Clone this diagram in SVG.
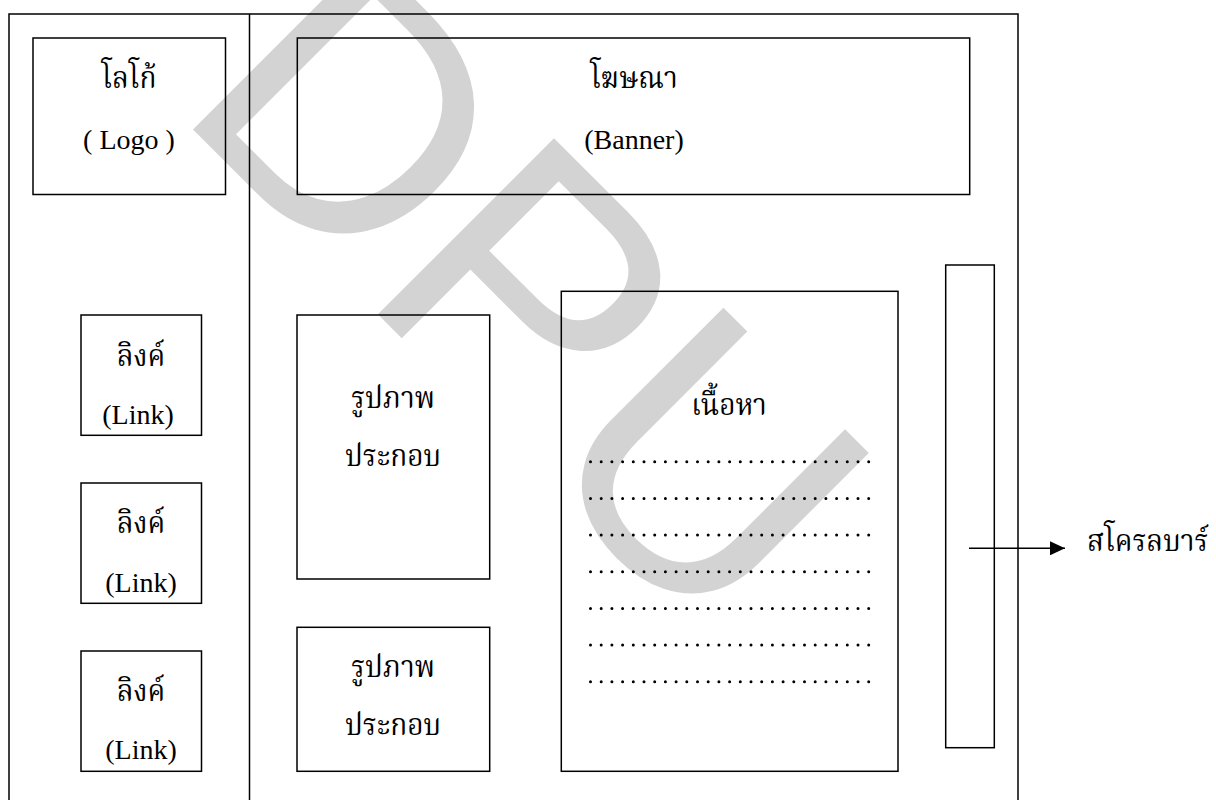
<svg xmlns="http://www.w3.org/2000/svg" width="1216" height="800" viewBox="0 0 1216 800">
  <style>
    .box { fill: none; stroke: #000; stroke-width: 1.5; }
    .th { font-family: "Liberation Serif", "Noto Serif Thai", "Noto Sans Thai", "Noto Sans", serif; font-size: 28px; fill: #000; text-anchor: middle; }
    .en { font-family: "Liberation Serif", serif; font-size: 28px; fill: #000; text-anchor: middle; }
    .dots { stroke: #000; stroke-width: 3; stroke-linecap: round; stroke-dasharray: 0 10.7; fill: none; }
    .wm { font-family: "Liberation Sans", Arial, sans-serif; font-size: 362px; fill: #d3d3d3; }
  </style>
  <defs>
    <marker id="arrow" markerWidth="16" markerHeight="14" refX="15" refY="7" orient="auto" markerUnits="userSpaceOnUse">
      <polygon points="0,0 15,7 0,14" fill="#000"/>
    </marker>
  </defs>
  <rect width="1216" height="800" fill="#fff"/>
  <g id="watermark">
    <text class="wm" transform="translate(172,108.5) rotate(45)">DPU</text>
  </g>
  <g id="frame">
    <rect class="box" x="9" y="14" width="1009" height="820"/>
    <line class="box" x1="249.5" y1="14" x2="249.5" y2="800"/>
  </g>
  <g id="logo">
    <rect class="box" x="33" y="38" width="192.5" height="156.5"/>
    <text class="th" transform="translate(129,88) scale(1,1.1)">โลโก้</text>
    <text class="en" x="129" y="149">( Logo )</text>
  </g>
  <g id="banner">
    <rect class="box" x="297.3" y="38" width="672.4" height="156.5"/>
    <text class="th" transform="translate(634,88) scale(1,1.1)">โฆษณา</text>
    <text class="en" x="634" y="149">(Banner)</text>
  </g>
  <g id="link1">
    <rect class="box" x="81" y="315" width="120.5" height="120.3"/>
    <text class="th" transform="translate(141,366) scale(1,1.1)">ลิงค์</text>
    <text class="en" x="138" y="424">(Link)</text>
  </g>
  <g id="link2">
    <rect class="box" x="81" y="483" width="120.5" height="120.3"/>
    <text class="th" transform="translate(141,533) scale(1,1.1)">ลิงค์</text>
    <text class="en" x="141" y="591.5">(Link)</text>
  </g>
  <g id="link3">
    <rect class="box" x="81" y="651" width="120.5" height="120.3"/>
    <text class="th" transform="translate(141,701) scale(1,1.1)">ลิงค์</text>
    <text class="en" x="141" y="759">(Link)</text>
  </g>
  <g id="image1">
    <rect class="box" x="297" y="315" width="192.7" height="264"/>
    <text class="th" transform="translate(393,408) scale(1,1.1)">รูปภาพ</text>
    <text class="th" transform="translate(393,465.5) scale(1,1.1)">ประกอบ</text>
  </g>
  <g id="image2">
    <rect class="box" x="297" y="627.3" width="192.7" height="144"/>
    <text class="th" transform="translate(393,677) scale(1,1.1)">รูปภาพ</text>
    <text class="th" transform="translate(393,734.5) scale(1,1.1)">ประกอบ</text>
  </g>
  <g id="content">
    <rect class="box" x="561.3" y="291.3" width="336.7" height="480"/>
    <text class="th" transform="translate(729,415) scale(1,1.1)">เนื้อหา</text>
    <line class="dots" x1="590.5" y1="461.7" x2="874" y2="461.7"/>
    <line class="dots" x1="590.5" y1="498.4" x2="874" y2="498.4"/>
    <line class="dots" x1="590.5" y1="535" x2="874" y2="535"/>
    <line class="dots" x1="590.5" y1="571.7" x2="874" y2="571.7"/>
    <line class="dots" x1="590.5" y1="608.4" x2="874" y2="608.4"/>
    <line class="dots" x1="590.5" y1="645" x2="874" y2="645"/>
    <line class="dots" x1="590.5" y1="681.7" x2="874" y2="681.7"/>
  </g>
  <g id="scrollbar">
    <rect class="box" x="945.7" y="265" width="48.6" height="482.7"/>
  </g>
  <g id="scrollbar-label">
    <text class="th" transform="translate(1087,551) scale(1,1.1)" style="text-anchor:start">สโครลบาร์</text>
  </g>
  <g id="connectors">
    <line x1="969" y1="548.3" x2="1065" y2="548.3" stroke="#000" stroke-width="1.5" marker-end="url(#arrow)"/>
  </g>
</svg>
